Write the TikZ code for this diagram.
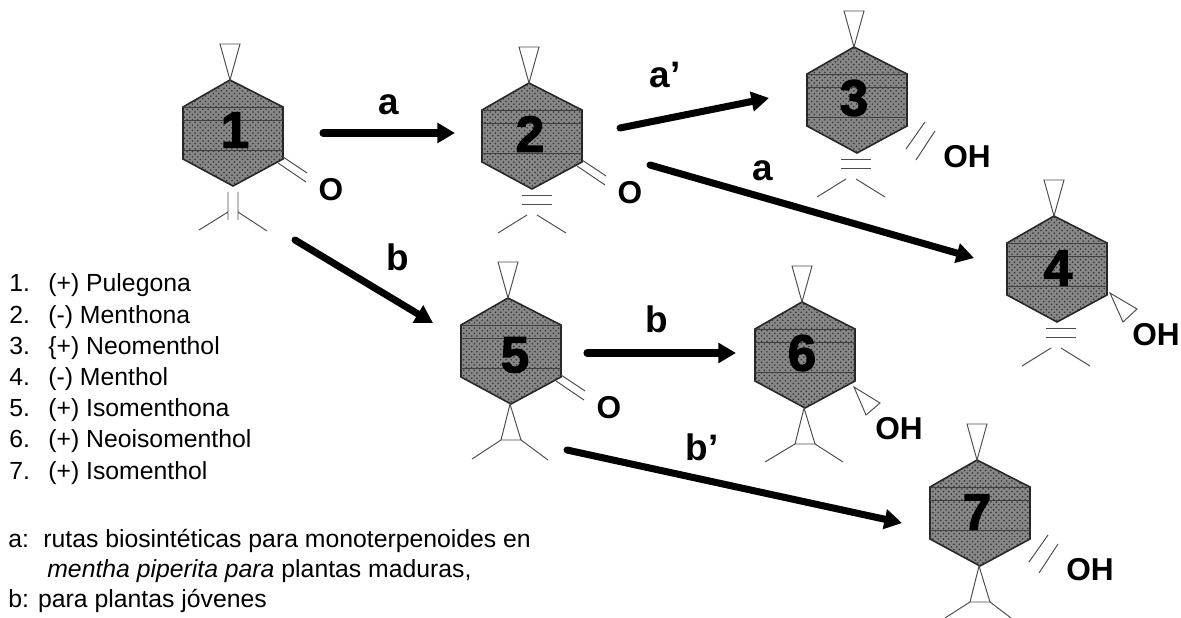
\documentclass[tikz,border=0pt]{standalone}
\usepackage{fontspec}
\setmainfont{Liberation Sans}
\newfontfamily\ringfont[FakeBold=2.5]{Liberation Sans Bold}
\usetikzlibrary{arrows.meta,calc,patterns}
\tikzset{
	ring/.style={draw=black!85,line width=0.9pt,fill=black!47},
	bond/.style={draw=black!70,line width=0.55pt},
	rxn/.style={line width=4pt,line cap=round,-{Triangle[length=10pt,width=11pt]}},
	ringnum/.style={font=\fontsize{29}{29}\ringfont,inner sep=0pt},
	rxnlabel/.style={font=\fontsize{21}{21}\selectfont\bfseries,inner sep=0pt},
	atom/.style={font=\fontsize{18}{18}\selectfont\bfseries,inner sep=0pt},
	legend/.style={font=\fontsize{14.1}{14.1}\selectfont,inner sep=0pt,anchor=base west}
}
\begin{document}
\begin{tikzpicture}[x=0.02cm,y=-0.02cm]
	\useasboundingbox (0,0) rectangle (1181,618);
	% rings with their upper triangle
	\foreach \n/\cx/\cy/\tx/\ty in {1/233/133/2/-3,2/532/136/-2/-2,3/857/100/-3/-2,4/1057/269/1/-1,5/511/351/4/4,6/805/355/-3/-2,7/980/513/-3/-1}{
		\coordinate (c\n) at (\cx,\cy);
		\begin{scope}[shift={(c\n)}]
			\draw[ring] (-3,-53) -- (50,-26) -- (50,26) -- (0,53) -- (-50,26) -- (-50,-26) -- cycle;
			\fill[pattern=crosshatch dots,pattern color=black!80] (-3,-53) -- (50,-26) -- (50,26) -- (0,53) -- (-50,26) -- (-50,-26) -- cycle;
			\draw[black!75,line width=0.5pt] (-50,-26) -- (50,-26) (-50,-13) -- (50,-13) (-50,17) -- (50,17);
			\node[ringnum] (n\n) at (\tx,\ty) {\n};
			\draw[bond] (-3,-53) -- (-13,-89) -- (7,-89) -- cycle;
		\end{scope}
	}
	% ketone groups
	\foreach \n in {1,2,5}{
		\begin{scope}[shift={(c\n)}]
			\draw[bond] (50,24) -- (74,40) (45,30) -- (73,49);
			\node[atom] (o\n) at (98,57) {O};
		\end{scope}
	}
	% hydroxyl groups
	\foreach \n in {3,7}{
		\begin{scope}[shift={(c\n)}]
			\draw[bond] (68,22) -- (49,49) (78,31) -- (59,60);
			\node[atom] (oh\n) at (110,57) {OH};
		\end{scope}
	}
	\begin{scope}[shift={(c4)}]
		\draw[bond] (53,24) -- (80,40) -- (66,53) -- cycle;
		\node[atom] (oh4) at (99,66) {OH};
	\end{scope}
	\begin{scope}[shift={(c6)}]
		\draw[bond] (49,32) -- (75,48) -- (61,60) -- cycle;
		\node[atom] (oh6) at (94,74) {OH};
	\end{scope}
	% lower groups
	\draw[bond] (228,192) -- (228,220) (238,192) -- (238,220) (228,212) -- (199,230) (238,212) -- (267,231);
	\foreach \n/\dx in {2/5,3/-1,4/4}{
		\begin{scope}[shift={(c\n)}]
			\draw[bond] (\dx-15,59) -- (\dx+15,59) (\dx-15,68) -- (\dx+15,68);
			\draw[bond] (\dx-10,79) -- (\dx-39,97) (\dx,79) -- (\dx+29,97);
		\end{scope}
	}
	\foreach \n in {5,6,7}{
		\begin{scope}[shift={(c\n)}]
			\draw[bond] (-1,53) -- (-10,89) -- (10,89) -- cycle;
		\end{scope}
	}
	\draw[bond] (501,440) -- (472,459) (521,440) -- (548,460);
	\draw[bond] (795,444) -- (765,462) (815,444) -- (843,462);
	\draw[bond] (970,602) -- (945,618) (990,602) -- (1011,618);
	% arrows
	\coordinate (s12) at (323,133);
	\coordinate (t12) at (455,133);
	\coordinate (s23) at (620,128);
	\coordinate (t23) at (769,98);
	\coordinate (s24) at (650,165);
	\coordinate (t24) at (974,258);
	\coordinate (s15) at (295,240);
	\coordinate (t15) at (433,323);
	\coordinate (s56) at (587,353);
	\coordinate (t56) at (736,353);
	\coordinate (s57) at (567,450);
	\coordinate (t57) at (902,523);
	\foreach \s/\t in {s12/t12,s23/t23,s24/t24,s15/t15,s56/t56,s57/t57}{
		\draw[rxn] (\s) -- (\t);
	}
	% arrow labels
	\node[rxnlabel] (la12) at (389,105) {a};
	\node[rxnlabel] (la23) at (665,75) {a’};
	\node[rxnlabel] (la24) at (763,171) {a};
	\node[rxnlabel] (lb15) at (398,257) {b};
	\node[rxnlabel] (lb56) at (657,319) {b};
	\node[rxnlabel] (lb57) at (702,447) {b’};
	% compound list
	\foreach \n/\name in {1/(+) Pulegona,2/(-) Menthona,3/\{+) Neomenthol,4/(-) Menthol,5/(+) Isomenthona,6/(+) Neoisomenthol,7/(+) Isomenthol}{
		\node[legend] (num\n) at (9,{292+31.2*(\n-1)}) {\n.};
		\node[legend] (nam\n) at (48,{292+31.2*(\n-1)}) {\name};
	}
	% notes
	\node[legend] (nota) at (8,547) {a:};
	\node[legend] (notb) at (43,547) {rutas biosintéticas para monoterpenoides en};
	\node[legend] (notc) at (47,577) {\itshape mentha piperita para \upshape plantas maduras,};
	\node[legend] (notd) at (8,607) {b: para plantas jóvenes};
\end{tikzpicture}
\end{document}
